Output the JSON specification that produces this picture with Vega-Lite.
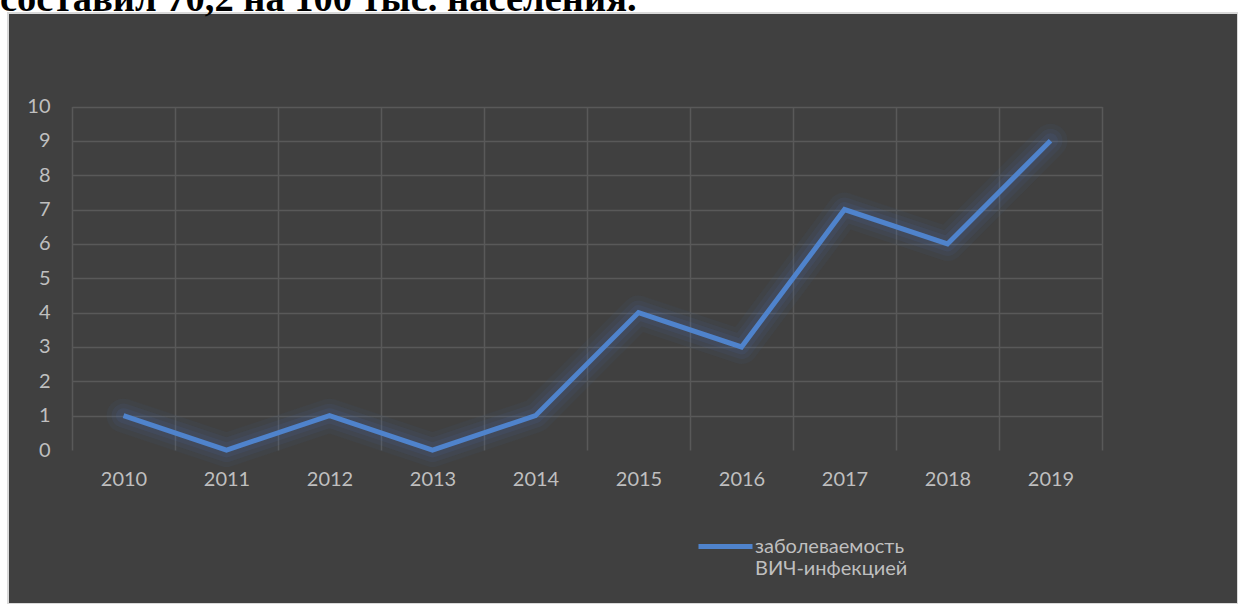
{
  "$schema": "https://vega.github.io/schema/vega-lite/v6.json",
  "width": 1230,
  "height": 591,
  "autosize": {"type": "none"},
  "padding": {"left": 8, "top": 13, "right": 0, "bottom": 0},
  "background": "white",
  "title": {
    "text": "составил 70,2 на 100 тыс. населения.",
    "anchor": "start",
    "frame": "group",
    "orient": "top",
    "font": "Liberation Serif",
    "fontSize": 38.5,
    "fontWeight": "bold",
    "color": "black",
    "baseline": "alphabetic",
    "offset": -36,
    "dx": -8
  },
  "config": {
    "view": {"fill": "#404040", "stroke": "#d9d9d9", "strokeWidth": 2}
  },
  "data": {
    "values": [
      {"year": "2010", "value": 1, "series": "заболеваемость ВИЧ-инфекцией"},
      {"year": "2011", "value": 0, "series": "заболеваемость ВИЧ-инфекцией"},
      {"year": "2012", "value": 1, "series": "заболеваемость ВИЧ-инфекцией"},
      {"year": "2013", "value": 0, "series": "заболеваемость ВИЧ-инфекцией"},
      {"year": "2014", "value": 1, "series": "заболеваемость ВИЧ-инфекцией"},
      {"year": "2015", "value": 4, "series": "заболеваемость ВИЧ-инфекцией"},
      {"year": "2016", "value": 3, "series": "заболеваемость ВИЧ-инфекцией"},
      {"year": "2017", "value": 7, "series": "заболеваемость ВИЧ-инфекцией"},
      {"year": "2018", "value": 6, "series": "заболеваемость ВИЧ-инфекцией"},
      {"year": "2019", "value": 9, "series": "заболеваемость ВИЧ-инфекцией"}
    ]
  },
  "encoding": {
    "x": {
      "field": "year",
      "type": "ordinal",
      "scale": {"type": "band", "range": [64, 1094], "paddingInner": 0, "paddingOuter": 0},
      "axis": {
        "orient": "top",
        "title": null,
        "grid": true,
        "tickBand": "extent",
        "domain": false,
        "ticks": false,
        "minExtent": 0,
        "maxExtent": 0,
        "labelPadding": -456,
        "labelAngle": 0,
        "labelBaseline": "top",
        "labelFont": "Lato",
        "labelFontSize": 20,
        "labelColor": "#bfbfbf",
        "gridColor": "#595959",
        "gridWidth": 1.5
      }
    },
    "y": {
      "field": "value",
      "type": "quantitative",
      "scale": {"domain": [0, 10], "range": [437, 93.5], "nice": false, "zero": true},
      "axis": {
        "title": null,
        "grid": true,
        "values": [0, 1, 2, 3, 4, 5, 6, 7, 8, 9, 10],
        "domain": false,
        "ticks": false,
        "offset": -64,
        "labelPadding": 22,
        "labelFont": "Lato",
        "labelFontSize": 20,
        "labelColor": "#bfbfbf",
        "gridColor": "#595959",
        "gridWidth": 1.5,
        "gridOpacity": {"condition": {"test": "datum.value === 0", "value": 0}, "value": 1}
      }
    }
  },
  "layer": [
    {
      "mark": {"type": "line", "color": "#4a78c0", "strokeWidth": 34, "opacity": 0.06, "strokeJoin": "round", "strokeCap": "round"}
    },
    {
      "mark": {"type": "line", "color": "#4a78c0", "strokeWidth": 24, "opacity": 0.08, "strokeJoin": "round", "strokeCap": "round"}
    },
    {
      "mark": {"type": "line", "color": "#4a78c0", "strokeWidth": 15, "opacity": 0.1, "strokeJoin": "round", "strokeCap": "round"}
    },
    {
      "mark": {"type": "line", "strokeWidth": 5},
      "encoding": {
        "color": {
          "field": "series",
          "type": "nominal",
          "scale": {"range": ["#4f83cc"]},
          "legend": {
            "title": null,
            "orient": "none",
            "legendX": 688,
            "legendY": 504,
            "symbolType": "stroke",
            "symbolSize": 2916,
            "symbolStrokeWidth": 5,
            "labelFont": "Lato",
            "labelFontSize": 20,
            "labelColor": "#bfbfbf",
            "labelLimit": 400,
            "labelOffset": 0,
            "labelExpr": "split(datum.label, ' ')"
          }
        }
      }
    }
  ]
}
